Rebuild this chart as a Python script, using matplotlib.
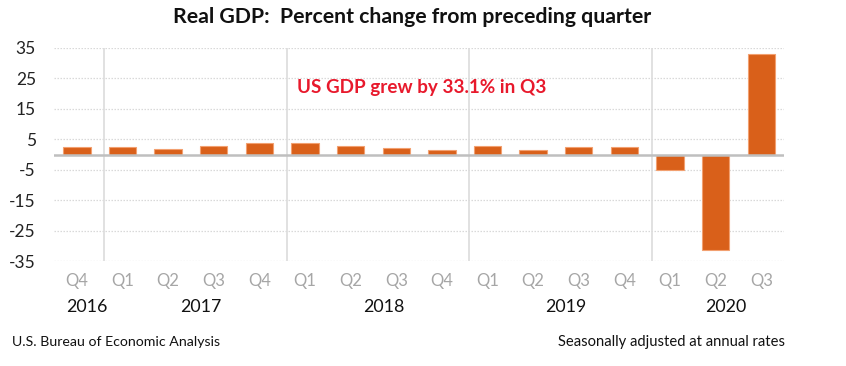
import matplotlib
matplotlib.use("Agg")
import matplotlib.pyplot as plt
import matplotlib.transforms as mtransforms
import numpy as np

quarters = ["Q4", "Q1", "Q2", "Q3", "Q4", "Q1", "Q2", "Q3", "Q4",
            "Q1", "Q2", "Q3", "Q4", "Q1", "Q2", "Q3"]
years = ["2016", "2017", "2017", "2017", "2017", "2018", "2018", "2018", "2018",
         "2019", "2019", "2019", "2019", "2020", "2020", "2020"]
gdp_change = [2.6, 2.4, 1.7, 2.9, 3.9, 3.7, 2.8, 2.1, 1.4,
              2.8, 1.5, 2.6, 2.4, -5.0, -31.4, 33.1]
y_ticks = [35, 25, 15, 5, -5, -15, -25, -35]

title = "Real GDP:  Percent change from preceding quarter"
note = "US GDP grew by 33.1% in Q3"
source = "U.S. Bureau of Economic Analysis"
basis = "Seasonally adjusted at annual rates"

plt.rcParams["font.family"] = ["Lato", "DejaVu Sans"]

W, H = 846, 366
fig = plt.figure(figsize=(W / 100, H / 100), dpi=100)
ax = fig.add_axes([54 / W, (H - 261) / H, 730 / W, 213 / H])

x = np.arange(len(gdp_change))
ax.set_xlim(-0.5, len(gdp_change) - 0.5)
ax.set_ylim(-35, 35)

for t in y_ticks:
    ax.axhline(t, color="#D9D9D9", lw=0.9, ls=(0, (1.2, 1.2)), zorder=0)

# year separators
bounds = [i - 0.5 for i in range(1, len(years)) if years[i] != years[i - 1]]
for b in bounds:
    ax.axvline(b + 0.1, color="#DCDCDC", lw=1.2, zorder=0)

ax.bar(x, gdp_change, width=0.6, color="#D9601A", edgecolor="#F2A070",
       linewidth=0.8, zorder=2)
ax.axhline(0, color="#BFBFBF", lw=1.8, zorder=3)

for s in ax.spines.values():
    s.set_visible(False)
ax.set_yticks(y_ticks)
ax.set_yticklabels([str(t) for t in y_ticks], fontsize=12.5, color="#222222")
ax.tick_params(axis="y", length=0, pad=13)
ax.set_xticks([])

blend = mtransforms.blended_transform_factory(ax.transData, fig.transFigure)

# quarter labels
for i, q in enumerate(quarters):
    ax.text(i, (H - 281) / H, q, transform=blend, fontsize=12,
            color="#A6A6A6", ha="center", va="center")

# year labels
uniq = []
for y in years:
    if y not in uniq:
        uniq.append(y)
for y in uniq:
    idx = [i for i, v in enumerate(years) if v == y]
    cx = (idx[0] + idx[-1]) / 2 + 0.22
    ax.text(cx, (H - 307) / H, y, transform=blend, fontsize=12.8,
            color="#111111", ha="center", va="center")

fig.text(412 / W, (H - 17) / H, title, fontsize=15.3, fontweight="bold",
         ha="center", va="center", color="#111111")
fig.text(297 / W, (H - 88) / H, note, fontsize=13.6, fontweight="bold",
         ha="left", va="center", color="#E8192C")
fig.text(12 / W, (H - 342) / H, source, fontsize=10.2, ha="left", va="center",
         color="#111111")
fig.text(558 / W, (H - 342) / H, basis, fontsize=10.6, ha="left", va="center",
         color="#111111")

fig.savefig("out.png", dpi=100)
